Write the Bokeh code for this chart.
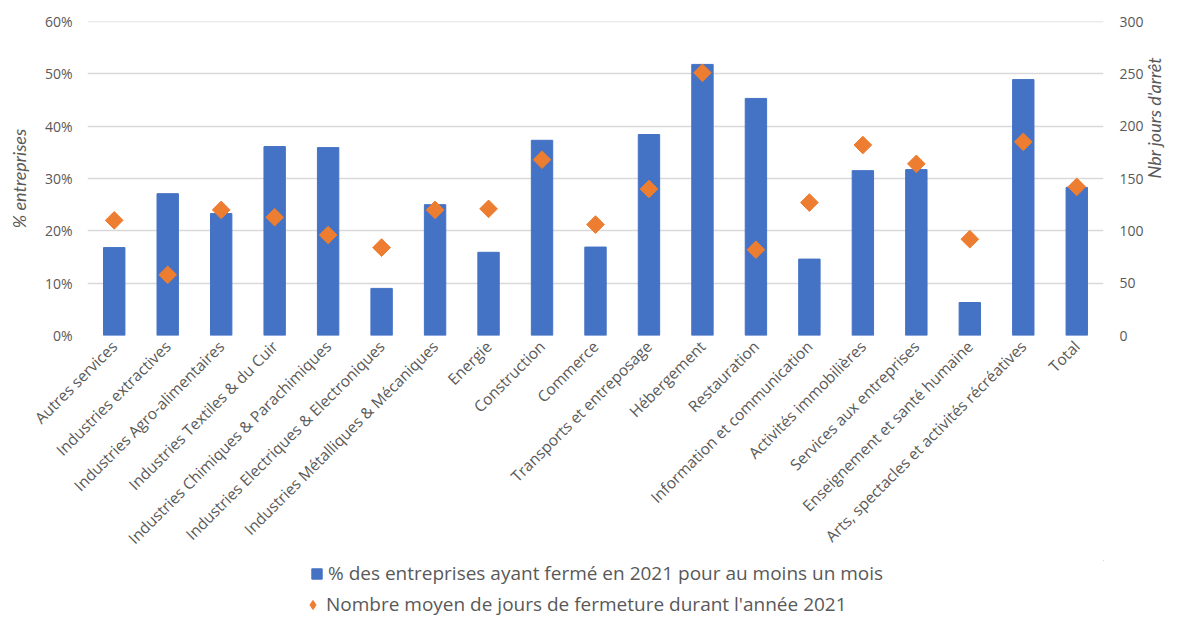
import math
from bokeh.plotting import figure
from bokeh.layouts import column
from bokeh.models import (FactorRange, Range1d, LinearAxis, SingleIntervalTicker,
                          NumeralTickFormatter, Legend, LegendItem)
from bokeh.embed import file_html
from bokeh.resources import INLINE

categories = [
    "Autres services", "Industries extractives", "Industries Agro-alimentaires",
    "Industries Textiles & du Cuir", "Industries Chimiques & Parachimiques",
    "Industries Electriques & Electroniques", "Industries Métalliques & Mécaniques",
    "Energie", "Construction", "Commerce", "Transports et entreposage",
    "Hébergement", "Restauration", "Information et communication",
    "Activités immobilières", "Services aux entreprises",
    "Enseignement et santé humaine", "Arts, spectacles et activités récréatives",
    "Total",
]
pct_closed = [0.168, 0.271, 0.233, 0.361, 0.359, 0.090, 0.250, 0.159, 0.373, 0.169,
              0.384, 0.518, 0.453, 0.146, 0.315, 0.317, 0.063, 0.489, 0.283]
days_closed = [110, 58, 120, 113, 96, 84, 120, 121, 168, 106,
               140, 251, 82, 127, 182, 164, 92, 185, 142]

bar_label = "% des entreprises ayant fermé en 2021 pour au moins un mois"
dia_label = "Nombre moyen de jours de fermeture durant l'année 2021"
left_title = "% entreprises"
right_title = "Nbr jours d'arrêt"

BLUE = "#4472C4"
ORANGE = "#ED7D31"
GREY = "#595959"
FONT = "Open Sans"

MAIN_H = 560
LEG_H = 617 - MAIN_H

p = figure(width=1179, height=MAIN_H, x_range=FactorRange(*categories, range_padding=0),
           y_range=Range1d(0, 0.6 + 1e-9), output_backend="svg", toolbar_location=None,
           min_border_left=87, min_border_right=76, min_border_top=21,
           min_border_bottom=MAIN_H - 335)
p.outline_line_color = None
p.background_fill_color = "white"
p.border_fill_color = "white"

p.extra_y_ranges = {"days": Range1d(0, 300 + 1e-7)}

bars = p.vbar(x=categories, top=pct_closed, width=0.4, fill_color=BLUE,
              line_color=BLUE)
dia = p.scatter(x=categories, y=days_closed, y_range_name="days", marker="square",
                angle=math.pi / 4, size=12.5, fill_color=ORANGE, line_color=ORANGE)

# left axis
ax = p.yaxis[0]
ax.ticker = SingleIntervalTicker(interval=0.1)
ax.formatter = NumeralTickFormatter(format="0%")
ax.axis_line_color = None
ax.major_tick_line_color = None
ax.minor_tick_line_color = None
ax.major_tick_out = 0
ax.minor_tick_out = 0
ax.major_label_standoff = 15
ax.major_label_text_color = GREY
ax.major_label_text_font = FONT
ax.major_label_text_font_size = "14px"
ax.axis_label = left_title
ax.axis_label_text_font = "Lato"
ax.axis_label_text_font_style = "italic"
ax.axis_label_text_font_size = "18px"
ax.axis_label_text_color = GREY
ax.axis_label_standoff = 12

# right axis
ax_r = LinearAxis(y_range_name="days", ticker=SingleIntervalTicker(interval=50))
ax_r.axis_line_color = None
ax_r.major_tick_line_color = None
ax_r.minor_tick_line_color = None
ax_r.major_tick_out = 0
ax_r.minor_tick_out = 0
ax_r.major_label_standoff = 16
ax_r.major_label_text_color = GREY
ax_r.major_label_text_font = FONT
ax_r.major_label_text_font_size = "14px"
ax_r.axis_label = right_title
ax_r.axis_label_text_font = "Lato"
ax_r.axis_label_text_font_style = "italic"
ax_r.axis_label_text_font_size = "18px"
ax_r.axis_label_text_color = GREY
ax_r.axis_label_standoff = 7
try:
    ax_r.axis_label_orientation = math.pi / 2
except Exception:
    pass
p.add_layout(ax_r, "right")

# x axis
xa = p.xaxis[0]
xa.axis_line_color = None
xa.major_tick_line_color = None
xa.minor_tick_line_color = None
xa.major_tick_out = 0
xa.minor_tick_out = 0
xa.major_label_orientation = math.pi / 4
xa.major_label_text_color = GREY
xa.major_label_text_font = FONT
xa.major_label_text_font_size = "15.5px"
xa.major_label_standoff = 8

p.xgrid.grid_line_color = None
p.ygrid.grid_line_color = "#D9D9D9"
p.ygrid.grid_line_width = 1.5

# legend strip below the chart (proxy glyphs sit outside the visible range)
lf = figure(width=1179, height=LEG_H, x_range=Range1d(0, 1), y_range=Range1d(0, 1),
            output_backend="svg", toolbar_location=None, min_border=0)
lf.axis.visible = False
lf.grid.visible = False
lf.outline_line_color = None
lf.background_fill_color = "white"
lf.border_fill_color = "white"
proxy_bar = lf.vbar(x=[5], top=[5], bottom=[4], width=0.4, fill_color=BLUE,
                    line_color=BLUE)
proxy_dia = lf.scatter(x=[5], y=[5], marker="diamond",
                       fill_color=ORANGE, line_color=ORANGE)

common = dict(orientation="vertical", padding=0, margin=0, spacing=0,
              border_line_alpha=0, background_fill_alpha=0,
              label_text_font=FONT, label_text_font_size="19px",
              label_text_color=GREY)
leg_a = Legend(items=[LegendItem(label=bar_label, renderers=[proxy_bar])],
               location=(223, 31), glyph_width=13, glyph_height=13,
               label_standoff=5, **common)
leg_b = Legend(items=[LegendItem(label=dia_label, renderers=[proxy_dia])],
               location=(214, 0), glyph_width=23, glyph_height=23,
               label_standoff=2, **common)
lf.add_layout(leg_a)
lf.add_layout(leg_b)

layout = column(p, lf, spacing=0)
open("out.html", "w").write(file_html(layout, INLINE))
